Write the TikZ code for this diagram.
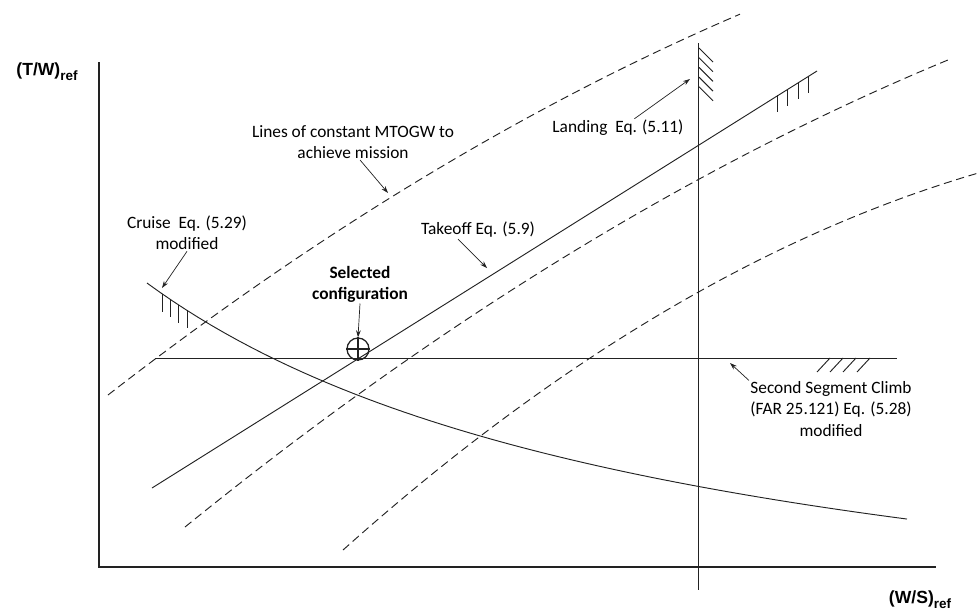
\documentclass[tikz,border=0pt]{standalone}
\usepackage{fontspec}
\setmainfont{Carlito}
\newfontfamily\axisfont{Liberation Sans}
\usetikzlibrary{arrows.meta,positioning,calc}
\definecolor{Ink}{HTML}{222222}

\begin{document}
\begin{tikzpicture}[x=0.03cm,y=-0.03cm,
  font=\fontsize{14.8}{18}\selectfont,
  curve/.style={Ink,line width=0.8pt},
  mtogw/.style={Ink,line width=0.8pt,dash pattern=on 7pt off 4pt},
  hatch/.style={Ink,line width=0.8pt},
  callout/.style={Ink,line width=0.6pt,-{Stealth[length=6pt,width=4pt]}},
  lbl/.style={align=center,inner sep=1pt},
  axislbl/.style={font=\axisfont\bfseries\fontsize{15}{18}\selectfont,inner sep=0pt},
  selmark/.style={circle,draw=Ink,line width=1.1pt,minimum size=0.66cm,inner sep=0pt}]
\useasboundingbox (0,0) rectangle (977,611);

% axes
\draw[Ink,line width=1.3pt] (99,62) -- (99,567) -- (936,567);
\node[axislbl] (tw) at (47,72) {(T/W)\raisebox{-4pt}{\fontsize{11.5}{12}\selectfont ref}};
\node[axislbl] (ws) at (920,600) {(W/S)\raisebox{-4pt}{\fontsize{11.5}{12}\selectfont ref}};

% lines of constant MTOGW
\draw[mtogw] plot[domain=108:740,samples=50] (\x,{395+(\x-108)*(-0.8355+0.0002725*(\x+108))});
\draw[mtogw] plot[domain=185:950,samples=50] (\x,{527+(\x-185)*(-0.906+0.0002604*(\x+185))});
\draw[mtogw] plot[domain=343:977,samples=50] (\x,{550+(\x-343)*(-1.2184+0.000478*(\x+343))});

% constraints
\draw[curve] plot[domain=147:907,samples=60] (\x,{692.7-2290.85/((\x+412.2)/100)});
\draw[curve] (155,358) -- (897,358);
\draw[curve] (698,43) -- (698,590);
\draw[curve] (152,488) -- (817,71);

% hatching
\foreach \x/\y in {162/294,170/299,178/305,187/310}
  \draw[hatch] (\x,\y) -- ++(0,18);
\foreach \x in {777,787,798,808}
  \draw[hatch] (\x,{488-0.628*(\x-152)}) -- ++(0,17);
\foreach \x in {817,830,843,857}
  \draw[hatch] (\x,372) -- ++(13,-14);
\foreach \k in {0,...,4}
  \draw[hatch] (699,{48+9.7*\k}) -- ++(14,14);

% selected point
\node[selmark] (selpt) at (358,349) {};
\draw[Ink,line width=1.1pt] (selpt.north) -- (selpt.south);
\draw[Ink,line width=1.1pt] (selpt.west) -- (selpt.east);

% labels
\node[lbl] (mtogwlbl) at (353,142) {Lines of constant MTOGW to\\achieve mission};
\node[lbl] (cruiselbl) at (187,233) {Cruise\ \ Eq. (5.29)\\modified};
\node[lbl] (takeofflbl) at (478,230) {Takeoff Eq. (5.9)};
\node[lbl,font=\bfseries\fontsize{14.8}{18}\selectfont] (sellbl) at (360,284) {Selected\\configuration};
\node[lbl] (landinglbl) at (618,128) {Landing\ \ Eq. (5.11)};
\node[lbl] (climblbl) at (831,409) {Second Segment Climb\\(FAR 25.121) Eq. (5.28)\\modified};

% callouts
\coordinate (mtogwtip) at (388,193);
\coordinate (cruisetip) at (162,288);
\coordinate (takeofftip) at (487,268);
\coordinate (landingtip) at (690,79);
\coordinate (climbtip) at (730,363);
\draw[callout] ([xshift=6pt]mtogwlbl.south) -- (mtogwtip);
\draw[callout] (cruiselbl.south) -- (cruisetip);
\draw[callout] ([xshift=-17pt]takeofflbl.south) -- (takeofftip);
\draw[callout] (sellbl.south) -- (selpt.north);
\draw[callout] ([xshift=14pt]landinglbl.north) -- (landingtip);
\draw[callout] (climblbl.north west) -- (climbtip);
\end{tikzpicture}
\end{document}
